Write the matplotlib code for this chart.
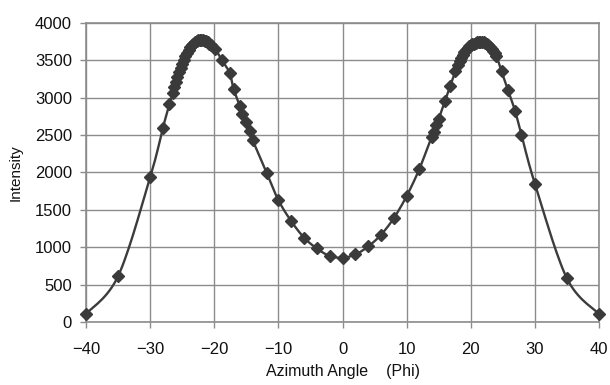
import numpy as np
import matplotlib
matplotlib.use("Agg")
import matplotlib.pyplot as plt

# ---- data ----
phi = [-40, -35, -30, -28, -27,
       -26.5, -26.25, -26, -25.75, -25.5, -25.25, -25, -24.75, -24.5, -24.25,
       -24, -23.75, -23.5, -23.25, -23, -22.75, -22.5, -22.25, -22, -21.75,
       -21.5, -21.25, -21, -20.75, -20.5, -19.9,
       -18.8, -17.6, -17, -16, -15.6, -15, -14.5, -14, -11.8, -10,
       -8, -6, -4, -2, 0, 2, 4, 6, 8, 10, 12,
       13.9, 14.2, 14.6, 15, 16, 16.8, 17.6,
       18, 18.25, 18.5, 18.75, 19, 19.25, 19.5, 19.75, 20, 20.25, 20.5, 20.75,
       21, 21.25, 21.5, 21.75, 22, 22.25, 22.5, 22.75, 23, 23.25, 23.5, 23.75, 24,
       24.8, 25.8, 26.9, 27.9, 30, 35, 40]
intensity = [110, 615, 1935, 2600, 2910,
             3060, 3135, 3205, 3275, 3340, 3400, 3455, 3505, 3555, 3600,
             3640, 3672, 3700, 3722, 3740, 3755, 3764, 3769, 3770, 3767,
             3760, 3750, 3737, 3722, 3705, 3655,
             3500, 3330, 3120, 2885, 2785, 2670, 2560, 2430, 1990, 1630,
             1350, 1130, 985, 885, 862, 905, 1012, 1168, 1390, 1685, 2050,
             2480, 2545, 2630, 2715, 2960, 3160, 3355,
             3440, 3490, 3535, 3575, 3610, 3640, 3665, 3685, 3700, 3712, 3722, 3730,
             3736, 3740, 3742, 3742, 3738, 3730, 3718, 3700, 3680, 3655, 3625, 3595, 3560,
             3350, 3100, 2825, 2505, 1850, 585, 110]
xticks = [-40, -30, -20, -10, 0, 10, 20, 30, 40]
yticks = [0, 500, 1000, 1500, 2000, 2500, 3000, 3500, 4000]
xlabel = "Azimuth Angle    (Phi)"
ylabel = "Intensity"


def smooth(x, y, n=16):
    """Bezier smoothing through the points (like a spreadsheet 'smoothed line')."""
    x = np.asarray(x, float)
    y = np.asarray(y, float)
    px = np.concatenate([[x[0]], x, [x[-1]]])
    py = np.concatenate([[y[0]], y, [y[-1]]])
    xs, ys = [], []
    t = np.linspace(0, 1, n, endpoint=False)
    for i in range(1, len(px) - 2):
        p0 = np.array([px[i - 1], py[i - 1]])
        p1 = np.array([px[i], py[i]])
        p2 = np.array([px[i + 1], py[i + 1]])
        p3 = np.array([px[i + 2], py[i + 2]])
        c1 = p1 + (p2 - p0) / 6.0
        c2 = p2 - (p3 - p1) / 6.0
        b = ((1 - t) ** 3)[:, None] * p1 + (3 * (1 - t) ** 2 * t)[:, None] * c1 \
            + (3 * (1 - t) * t ** 2)[:, None] * c2 + (t ** 3)[:, None] * p2
        xs.extend(b[:, 0])
        ys.extend(b[:, 1])
    xs.append(x[-1])
    ys.append(y[-1])
    return np.array(xs), np.array(ys)


plt.rcParams['font.family'] = ['Liberation Sans', 'DejaVu Sans']

fig = plt.figure(figsize=(6.1, 3.85), dpi=100)
ax = fig.add_axes([0.141, 0.163, 0.841, 0.778])

grid_c = '#8c8c8c'
ax.set_xlim(-40, 40)
ax.set_ylim(0, 4000)
ax.set_xticks(xticks)
ax.set_yticks(yticks)
ax.grid(True, color=grid_c, linewidth=1.0, zorder=0)
for s in ax.spines.values():
    s.set_color(grid_c)
    s.set_linewidth(1.2)
ax.tick_params(direction='out', length=4, width=1, color=grid_c,
               labelsize=12, labelcolor='#111111')
ax.tick_params(axis='y', pad=6)
ax.tick_params(axis='x', pad=10)

sx, sy = smooth(phi, intensity)
ax.plot(sx, sy, color='#3c3c3c', linewidth=1.7, zorder=3, clip_on=False)
ax.plot(phi, intensity, linestyle='none', marker='D', markersize=6.3,
        color='#3a3a3a', zorder=4, clip_on=False)

ax.set_xlabel(xlabel, fontsize=11.5, color='#111111', labelpad=5)
ax.set_ylabel(ylabel, fontsize=11, color='#111111', labelpad=9)

fig.savefig('out.png', dpi=100)
